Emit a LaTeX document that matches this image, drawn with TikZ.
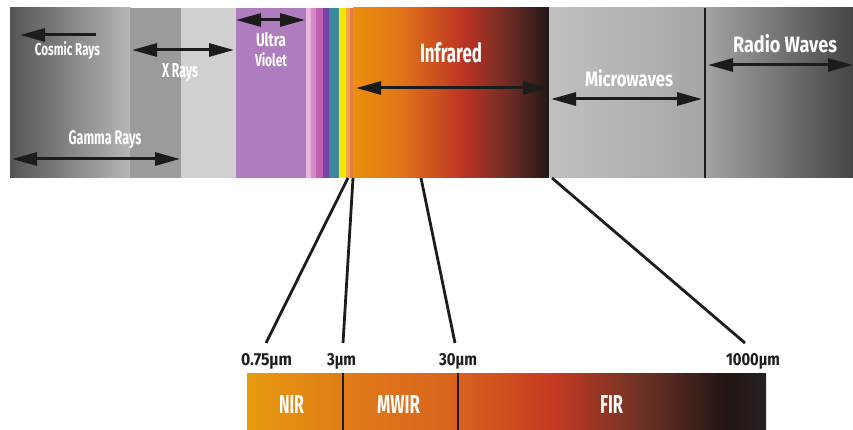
\documentclass[tikz,border=0pt]{standalone}
\usepackage{fontspec}
\setmainfont{Fira Sans}
\usetikzlibrary{arrows.meta}
\newcommand{\fitlbl}[3]{\resizebox{#1pt}{#2pt}{#3}}
\definecolor{inkc}{HTML}{1C1C1C}
\definecolor{gA}{HTML}{555555}
\definecolor{gB}{HTML}{B6B6B6}
\definecolor{gC}{HTML}{9B9B9B}
\definecolor{gD}{HTML}{D0D0D0}
\definecolor{uvc}{HTML}{B07CC0}
\definecolor{s1}{HTML}{EAB8DC}
\definecolor{s2}{HTML}{D888C8}
\definecolor{s3}{HTML}{C060B4}
\definecolor{s4}{HTML}{7444AA}
\definecolor{s5}{HTML}{3A8A9C}
\definecolor{s6}{HTML}{E8E8A0}
\definecolor{s7}{HTML}{F5E600}
\definecolor{s8}{HTML}{F2A844}
\definecolor{s9}{HTML}{E87A4A}
\definecolor{i1}{HTML}{EA900C}
\definecolor{i2}{HTML}{E27418}
\definecolor{i3}{HTML}{BC3424}
\definecolor{i4}{HTML}{6A2C24}
\definecolor{i5}{HTML}{221818}
\definecolor{m1}{HTML}{C0C0C0}
\definecolor{m2}{HTML}{A6A6A6}
\definecolor{r1}{HTML}{A3A3A3}
\definecolor{r2}{HTML}{464646}
\definecolor{b1}{HTML}{E69A0E}
\definecolor{b2}{HTML}{E07C18}
\definecolor{b3}{HTML}{D8621E}
\definecolor{b4}{HTML}{C63A22}
\definecolor{b5}{HTML}{6E3226}
\definecolor{b6}{HTML}{3A1E1A}
\definecolor{b7}{HTML}{221412}
\definecolor{b8}{HTML}{262222}
\begin{document}
\begin{tikzpicture}[x=1pt,y=-1pt,
  dbl/.style={draw=inkc,line width=3pt,{Triangle[length=25pt,width=13pt]}-{Triangle[length=25pt,width=13pt]}},
  lft/.style={draw=inkc,line width=3pt,-{Triangle[length=25pt,width=13pt]}},
  wl/.style={text=white,font=\bfseries,inner sep=0pt,anchor=base},
  bl/.style={text=inkc,font=\bfseries,inner sep=0pt,anchor=base},
  zoomline/.style={draw=inkc,line width=2.8pt},
  divline/.style={draw=inkc,line width=2.2pt}]
\useasboundingbox (0,0) rectangle (853,430);
% ---------- top spectrum band ----------
\shade[left color=gA,right color=gB] (10,8) rectangle (130.5,178);
\fill[gC] (130,8) rectangle (181.5,178);
\fill[gD] (181,8) rectangle (236.5,178);
\fill[uvc] (236,8) rectangle (306.5,178);
\fill[s1] (306,8) rectangle (311.5,178);
\fill[s2] (311,8) rectangle (316.5,178);
\fill[s3] (316,8) rectangle (323.5,178);
\fill[s4] (323,8) rectangle (329.5,178);
\fill[s5] (329,8) rectangle (339.5,178);
\fill[s6] (339,8) rectangle (340.5,178);
\fill[s7] (340,8) rectangle (346.5,178);
\fill[s8] (346,8) rectangle (350.5,178);
\fill[s9] (350,8) rectangle (353.5,178);
% infrared gradient
\shade[left color=i1,right color=i2] (353,8) rectangle (400.5,178);
\shade[left color=i2,right color=i3] (400,8) rectangle (463.5,178);
\shade[left color=i3,right color=i4] (463,8) rectangle (510.5,178);
\shade[left color=i4,right color=i5] (510,8) rectangle (549.5,178);
% microwaves and radio
\shade[left color=m1,right color=m2] (549,8) rectangle (705.5,178);
\shade[left color=r1,right color=r2] (705,8) rectangle (853,178);
\coordinate (mwtop) at (705,8);
\coordinate (mwbot) at (705,178);
\draw[divline,line width=2.5pt] (mwtop) -- (mwbot);
% ---------- bottom infrared bar ----------
\shade[left color=b1,right color=b2] (247,373) rectangle (343.5,430);
\shade[left color=b2,right color=b3] (343,373) rectangle (458.5,430);
\shade[left color=b3,right color=b4] (458,373) rectangle (552.5,430);
\shade[left color=b4,right color=b5] (552,373) rectangle (640.5,430);
\shade[left color=b5,right color=b6] (640,373) rectangle (700.5,430);
\shade[left color=b6,right color=b7] (700,373) rectangle (725.5,430);
\shade[left color=b7,right color=b8] (725,373) rectangle (766,430);
\coordinate (d1t) at (343,373); \coordinate (d1b) at (343,430);
\coordinate (d2t) at (458,373); \coordinate (d2b) at (458,430);
\draw[divline] (d1t) -- (d1b);
\draw[divline] (d2t) -- (d2b);
% ---------- zoom connector lines ----------
\coordinate (z1a) at (348,178); \coordinate (z1b) at (266,343);
\coordinate (z2a) at (353,178); \coordinate (z2b) at (343,343);
\coordinate (z3a) at (421,178); \coordinate (z3b) at (455,343);
\coordinate (z4a) at (552,178); \coordinate (z4b) at (745,343);
\draw[zoomline] (z1a) -- (z1b);
\draw[zoomline] (z2a) -- (z2b);
\draw[zoomline] (z3a) -- (z3b);
\draw[zoomline] (z4a) -- (z4b);
% ---------- arrows ----------
\coordinate (crA) at (96,35);  \coordinate (crB) at (20,35);
\coordinate (xrA) at (132,50); \coordinate (xrB) at (234,50);
\coordinate (grA) at (12,159); \coordinate (grB) at (180,159);
\coordinate (uvA) at (236,20); \coordinate (uvB) at (305,20);
\coordinate (irA) at (356,88); \coordinate (irB) at (548,88);
\coordinate (mwA) at (551,99); \coordinate (mwB) at (702,99);
\coordinate (rwA) at (708,65); \coordinate (rwB) at (853,65);
\draw[lft] (crA) -- (crB);
\draw[dbl] (xrA) -- (xrB);
\draw[dbl] (grA) -- (grB);
\draw[dbl] (uvA) -- (uvB);
\draw[dbl] (irA) -- (irB);
\draw[dbl] (mwA) -- (mwB);
\draw[dbl] (rwA) -- (rwB);
% ---------- labels ----------
\node[wl] (cosmic) at (67.5,56) {\fitlbl{65}{14}{Cosmic Rays}};
\node[wl] (xrays) at (180,78) {\fitlbl{36}{14}{X Rays}};
\node[wl] (gamma) at (105,145) {\fitlbl{73}{14}{Gamma Rays}};
\node[wl] (ultra) at (271,47) {\fitlbl{30}{14}{Ultra}};
\node[wl] (violet) at (271,67) {\fitlbl{32}{14}{Violet}};
\node[wl] (infra) at (451,63) {\fitlbl{62}{20}{Infrared}};
\node[wl] (micro) at (629,87) {\fitlbl{88}{17}{Microwaves}};
\node[wl] (radio) at (785,53) {\fitlbl{104}{18}{Radio Waves}};
\node[wl] (nir) at (291.5,413) {\fitlbl{25}{18}{NIR}};
\node[wl] (mwir) at (398.5,413) {\fitlbl{43}{18}{MWIR}};
\node[wl] (fir) at (611.5,413) {\fitlbl{23}{18}{FIR}};
\node[bl] (w075) at (266.5,365) {\fitlbl{51}{12}{0.75μm}};
\node[bl] (w3) at (341.5,365) {\fitlbl{29}{12}{3μm}};
\node[bl] (w30) at (458,365) {\fitlbl{38}{12}{30μm}};
\node[bl] (w1000) at (753,365) {\fitlbl{54}{12}{1000μm}};
\end{tikzpicture}
\end{document}
